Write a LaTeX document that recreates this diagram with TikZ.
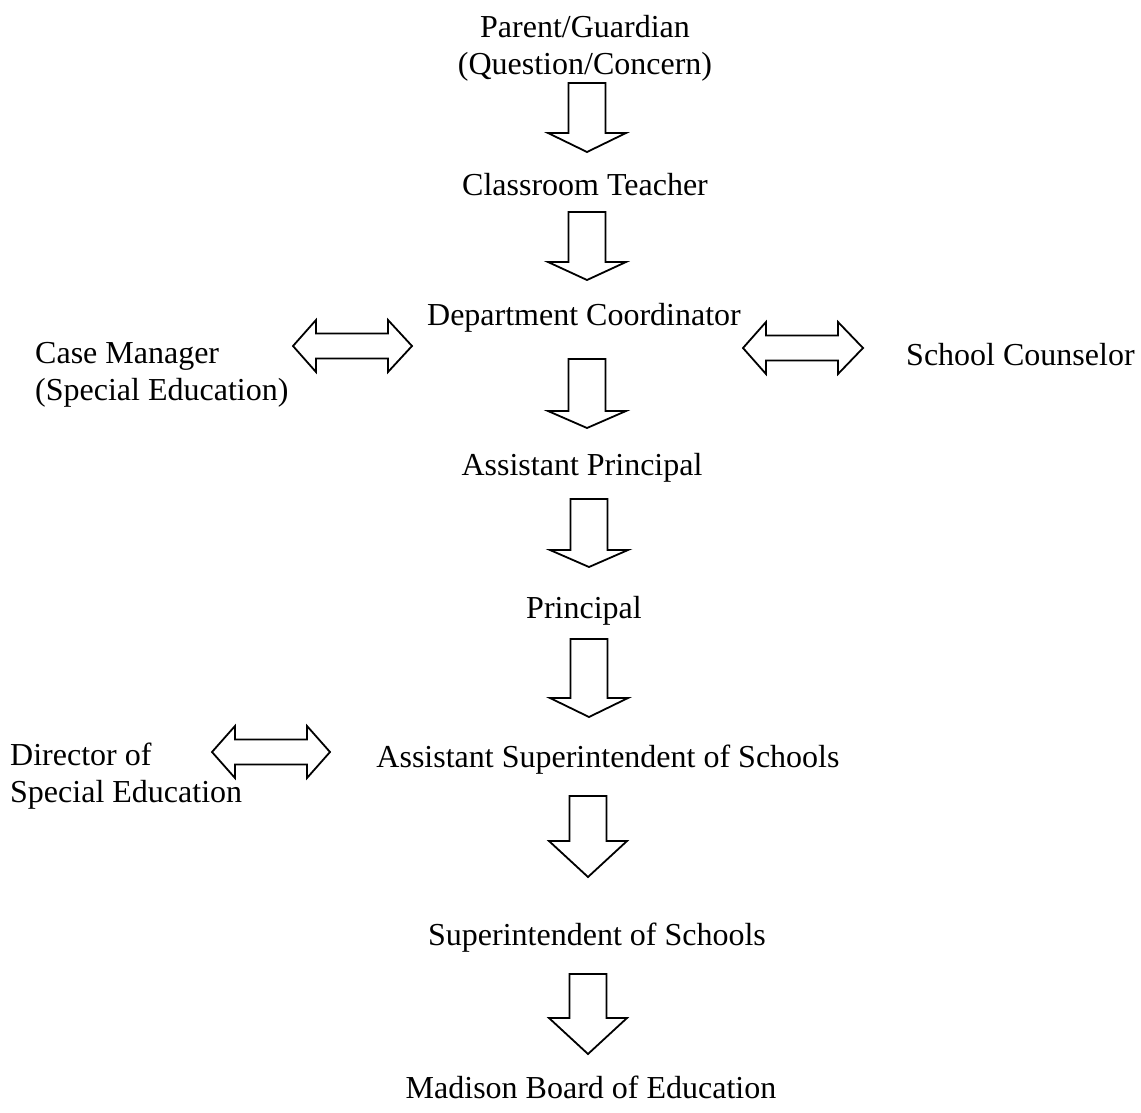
\documentclass[tikz,border=0pt]{standalone}
\usepackage{fontspec}
\setmainfont{Liberation Serif}
\usepackage{tikz}
\usetikzlibrary{positioning}
\tikzstyle{label} = [inner sep=0pt, font=\fontsize{32}{37}\selectfont]
\tikzstyle{block} = [draw=black, line width=1.8pt, fill=white, line join=miter]
% down block arrow: centre x, top, shoulder, tip
\newcommand{\blockdown}[4]{%
  \draw[block] (#1-18.5,#2) -- (#1+18.5,#2) -- (#1+18.5,#3) -- (#1+39,#3)
    -- (#1,#4) -- (#1-39,#3) -- (#1-18.5,#3) -- cycle;}
% double block arrow: centre y, left tip, left back, right back, right tip
\newcommand{\blockboth}[5]{%
  \draw[block] (#2,#1) -- (#3,#1-26) -- (#3,#1-12.5) -- (#4,#1-12.5) -- (#4,#1-26)
    -- (#5,#1) -- (#4,#1+26) -- (#4,#1+12.5) -- (#3,#1+12.5) -- (#3,#1+26) -- cycle;}
\begin{document}
\begin{tikzpicture}[x=1pt, y=-1pt, align=center]
\useasboundingbox (0,0) rectangle (1141,1112);

% multi-line nodes: base is the baseline of the last line
\node (parent) [label, anchor=base] at (585,74) {Parent/Guardian\\(Question/Concern)};
\node (teacher) [label, anchor=base] at (585,195) {Classroom Teacher};
\node (coord) [label, anchor=base] at (584,325) {Department Coordinator};
\node (casemgr) [label, anchor=base west, align=left] at (35,400) {Case Manager\\(Special Education)};
\node (counselor) [label, anchor=base west] at (906,365) {School Counselor};
\node (asstprin) [label, anchor=base] at (582,475) {Assistant Principal};
\node (principal) [label, anchor=base] at (584,618) {Principal};
\node (asstsup) [label, anchor=base] at (608,767) {Assistant Superintendent of Schools};
\node (director) [label, anchor=base west, align=left] at (10,802) {Director of\\Special Education};
\node (super) [label, anchor=base] at (597,945) {Superintendent of Schools};
\node (board) [label, anchor=base] at (591,1098) {Madison Board of Education};

\blockdown{587}{83}{133}{152}
\blockdown{587}{212}{262}{280}
\blockdown{587}{359}{411}{428}
\blockdown{589}{499}{550}{567}
\blockdown{589}{639}{698}{717}
\blockdown{588}{796}{841}{877}
\blockdown{588}{974}{1018}{1054}

\blockboth{346}{293}{316}{388}{412}
\blockboth{348}{743}{766}{838}{863}
\blockboth{752}{212}{235}{307}{330}
\end{tikzpicture}
\end{document}
